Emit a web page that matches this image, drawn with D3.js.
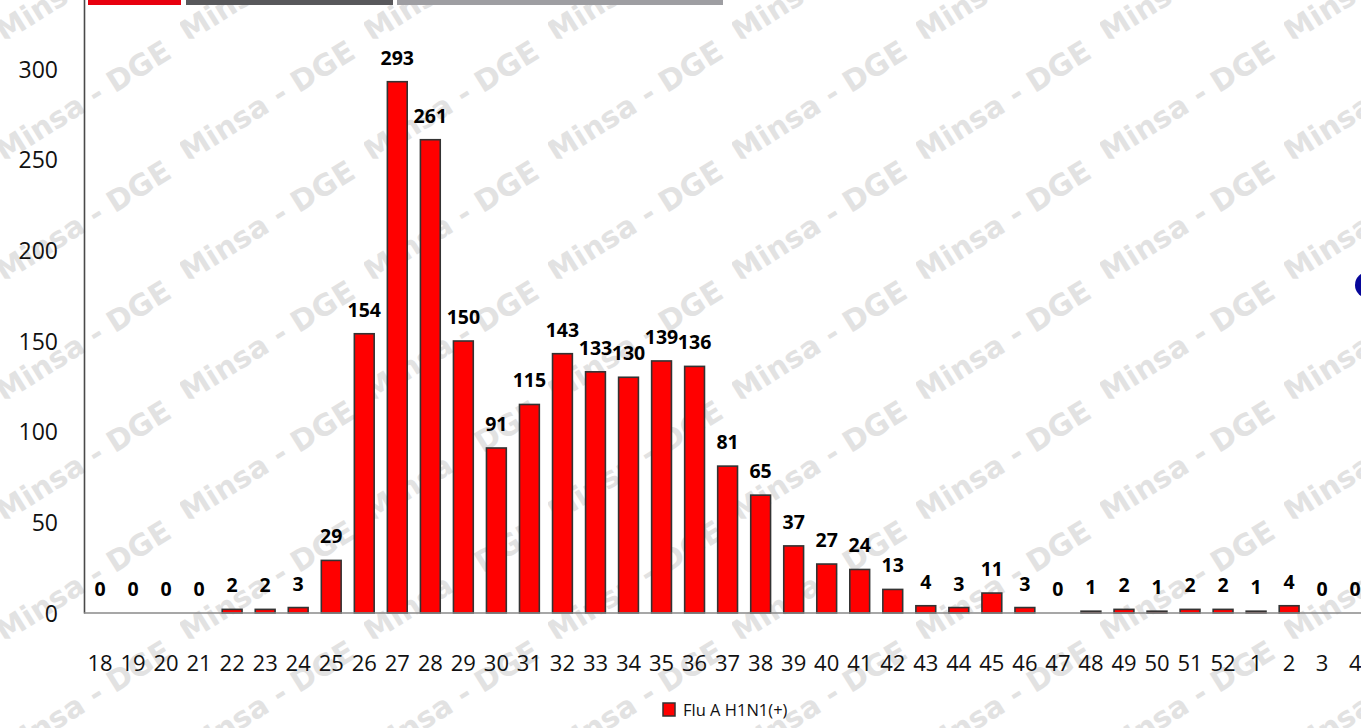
<!DOCTYPE html>
<html>
<head>
<meta charset="utf-8">
<script src="https://cdn.jsdelivr.net/npm/d3@7"></script>
<style>
  html, body { margin: 0; padding: 0; background: #fff; }
  svg { display: block; }
</style>
</head>
<body>
<div id="chart"></div>
<script>
// ---- data ----
const weeks = ["18","19","20","21","22","23","24","25","26","27","28","29","30","31","32","33","34","35","36","37","38","39","40","41","42","43","44","45","46","47","48","49","50","51","52","1","2","3","4"];
const cases = [0,0,0,0,2,2,3,29,154,293,261,150,91,115,143,133,130,139,136,81,65,37,27,24,13,4,3,11,3,0,1,2,1,2,2,1,4,0,0];
const yTicks = [0,50,100,150,200,250,300];
const seriesName = "Flu A H1N1(+)";
const watermarkText = "Minsa - DGE";

const W = 1361, H = 728;
const svg = d3.select("#chart").append("svg").attr("width", W).attr("height", H);

// ---- watermark (behind) ----
const wm = svg.append("g");
const defs = svg.append("defs");
const tileW = 184, tileH = 120, tileX0 = 0, tileY0 = 38.7 - 120;
let cid = 0;
for (let j = 0; j < 7; j++) {
  for (let i = 0; i < 8; i++) {
    const tx = tileX0 + i * tileW, ty = tileY0 + j * tileH;
    const id = "wmclip" + (cid++);
    defs.append("clipPath").attr("id", id).append("rect")
      .attr("x", tx - 4).attr("y", ty).attr("width", tileW + 8).attr("height", tileH);
    wm.append("g").attr("clip-path", `url(#${id})`)
      .append("text")
      .attr("transform", `translate(${tx + 4},${ty + tileH + 4}) rotate(-32)`)
      .attr("font-family", "DejaVu Sans, sans-serif")
      .attr("font-weight", "bold")
      .attr("font-size", 29.5)
      .attr("fill", "#e2e2e2")
      .text(watermarkText);
  }
}

// ---- decorative header strips & circle ----
svg.append("rect").attr("x", 88).attr("y", -2).attr("width", 93).attr("height", 7).attr("fill", "#e8000f");
svg.append("rect").attr("x", 186).attr("y", -2).attr("width", 207).attr("height", 7).attr("fill", "#58585b");
svg.append("rect").attr("x", 397).attr("y", -2).attr("width", 326).attr("height", 7).attr("fill", "#9e9ea2");
svg.append("circle").attr("cx", 1368).attr("cy", 285).attr("r", 13).attr("fill", "#07079a");

// ---- scales ----
const x = d3.scaleBand().domain(weeks).range([83.5, 1371.7]).paddingInner(0.4).paddingOuter(0.2);
const y = d3.scaleLinear().domain([0, 350]).range([613, 613 - 350 * 1.8133]);

// ---- y axis ----
const yAxis = svg.append("g").attr("transform", "translate(84,0)")
  .call(d3.axisLeft(y).tickValues(yTicks).tickSize(0).tickPadding(26));
yAxis.select(".domain").attr("stroke", "#4a4a4a").attr("stroke-width", 1.6);
yAxis.selectAll("text").attr("font-family", "Open Sans, sans-serif").attr("font-size", 23).attr("fill", "#111").attr("dy", "0.36em");

// ---- bars ----
svg.append("g").selectAll("rect").data(cases).join("rect")
  .attr("x", (d, i) => x(weeks[i]))
  .attr("y", d => y(d))
  .attr("width", x.bandwidth())
  .attr("height", d => y(0) - y(d))
  .attr("fill", "#ff0000")
  .attr("stroke", "#333")
  .attr("stroke-width", 1.6);

// ---- x axis (baseline + labels) ----
const xAxis = svg.append("g").attr("transform", "translate(0,613)")
  .call(d3.axisBottom(x).tickSize(0).tickPadding(42));
xAxis.select(".domain").attr("stroke", "#8a8a8a").attr("stroke-width", 1.6).attr("d", "M84,0H1372");
xAxis.selectAll("text").attr("font-family", "Open Sans, sans-serif").attr("font-size", 22).attr("fill", "#111");

// ---- value labels ----
svg.append("g").selectAll("text").data(cases).join("text")
  .attr("x", (d, i) => x(weeks[i]) + x.bandwidth() / 2)
  .attr("y", d => y(d) - 17)
  .attr("text-anchor", "middle")
  .attr("font-family", "Open Sans, sans-serif")
  .attr("font-weight", "bold")
  .attr("font-size", 19.5)
  .attr("fill", "#000")
  .text(d => d);

// ---- legend ----
const lg = svg.append("g").attr("transform", "translate(663,703)");
lg.append("rect").attr("width", 12).attr("height", 13).attr("fill", "#ff0000").attr("stroke", "#333").attr("stroke-width", 1.5);
lg.append("text").attr("x", 20).attr("y", 12.5)
  .attr("font-family", "Open Sans, sans-serif").attr("font-size", 16.5).attr("fill", "#111")
  .text(seriesName);
</script>
</body>
</html>
